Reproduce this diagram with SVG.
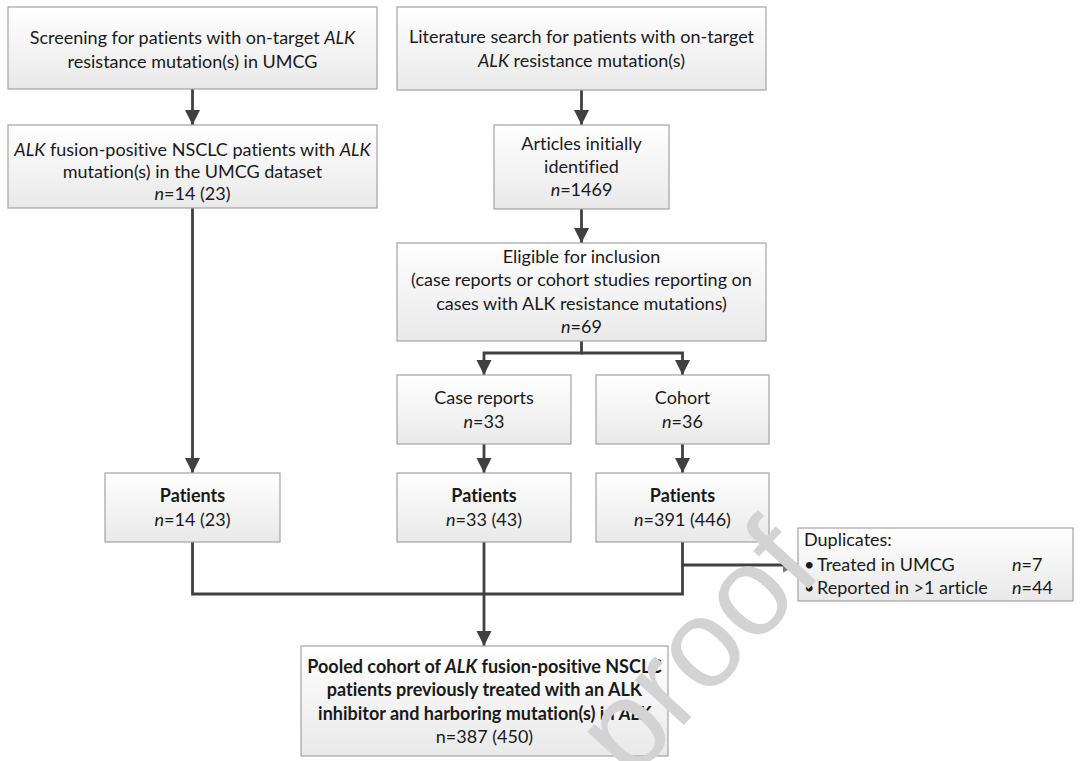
<svg xmlns="http://www.w3.org/2000/svg" width="1080" height="761" viewBox="0 0 1080 761">
<defs>
<linearGradient id="g" x1="0" y1="0" x2="0" y2="1">
<stop offset="0" stop-color="#ffffff"/>
<stop offset="1" stop-color="#e9e9e9"/>
</linearGradient>
<marker id="ah" markerUnits="userSpaceOnUse" markerWidth="16" markerHeight="16" refX="15" refY="7.5" orient="auto">
<path d="M0,0 L15,7.5 L0,15 z" fill="#404040"/>
</marker>
<marker id="ahg" markerUnits="userSpaceOnUse" markerWidth="16" markerHeight="16" refX="15" refY="7.5" orient="auto">
<path d="M0,0 L15,7.5 L0,15 z" fill="#7a7a7a"/>
</marker>
</defs>
<style>
rect.b{fill:url(#g);stroke:#a3a3a3;stroke-width:1.2}
text{font-family:Lato,"Liberation Sans",sans-serif;font-size:18px;fill:#1a1a1a;font-variant-ligatures:none}
text.c{text-anchor:middle}
.bo{font-weight:bold}
.i{font-style:italic}
.ln{fill:none;stroke:#404040;stroke-width:2.8}
.wm{font-family:"Liberation Sans",sans-serif;font-size:126px;fill:#d3d3d3}
</style>
<rect width="1080" height="761" fill="#ffffff"/>
<g id="connectors">
<path class="ln" d="M192.5,89 V125" marker-end="url(#ah)"/>
<path class="ln" d="M192.5,208 V473" marker-end="url(#ah)"/>
<path class="ln" d="M581.5,90 V125" marker-end="url(#ah)"/>
<path class="ln" d="M581.5,209 V243" marker-end="url(#ah)"/>
<path class="ln" d="M581.5,341 V353 H484 V375" marker-end="url(#ah)"/>
<path class="ln" d="M581.5,353 H682.5 V375" marker-end="url(#ah)"/>
<path class="ln" d="M484,444 V473" marker-end="url(#ah)"/>
<path class="ln" d="M682.5,444 V473" marker-end="url(#ah)"/>
<path class="ln" d="M192.5,542 V594 H682.5 V542"/>
<path class="ln" d="M484,542 V646" marker-end="url(#ah)"/>
<path class="ln" d="M682.5,565 H798" stroke="#555" marker-end="url(#ahg)"/>
</g>
<g id="screening">
<rect class="b" x="8" y="7" width="369" height="82"/>
<text class="c" x="192.5" y="44">Screening for patients with on-target <tspan class="i">ALK</tspan></text>
<text class="c" x="192.5" y="68">resistance mutation(s) in UMCG</text>
</g>
<g id="umcg">
<rect class="b" x="8" y="125" width="369" height="83"/>
<text class="c" x="192.5" y="156"><tspan class="i">ALK</tspan> fusion-positive NSCLC patients with <tspan class="i">ALK</tspan></text>
<text class="c" x="192.5" y="178">mutation(s) in the UMCG dataset</text>
<text class="c" x="192.5" y="200"><tspan class="i">n</tspan>=14 (23)</text>
</g>
<g id="literature">
<rect class="b" x="397" y="7" width="369" height="83"/>
<text class="c" x="581.5" y="43">Literature search for patients with on-target</text>
<text class="c" x="581.5" y="67"><tspan class="i">ALK</tspan> resistance mutation(s)</text>
</g>
<g id="articles">
<rect class="b" x="494" y="125" width="175" height="84"/>
<text class="c" x="581.5" y="150">Articles initially</text>
<text class="c" x="581.5" y="173">identified</text>
<text class="c" x="581.5" y="196"><tspan class="i">n</tspan>=1469</text>
</g>
<g id="eligible">
<rect class="b" x="397" y="243" width="369" height="98"/>
<text class="c" x="581.5" y="263">Eligible for inclusion</text>
<text class="c" x="581.5" y="286">(case reports or cohort studies reporting on</text>
<text class="c" x="581.5" y="310">cases with ALK resistance mutations)</text>
<text class="c" x="581.5" y="333"><tspan class="i">n</tspan>=69</text>
</g>
<g id="case-reports">
<rect class="b" x="397" y="375" width="174" height="69"/>
<text class="c" x="484" y="404">Case reports</text>
<text class="c" x="484" y="428"><tspan class="i">n</tspan>=33</text>
</g>
<g id="cohort">
<rect class="b" x="596" y="375" width="173" height="69"/>
<text class="c" x="682.5" y="404">Cohort</text>
<text class="c" x="682.5" y="428"><tspan class="i">n</tspan>=36</text>
</g>
<g id="patients-umcg">
<rect class="b" x="105" y="473" width="175" height="69"/>
<text class="c bo" x="192.5" y="502">Patients</text>
<text class="c" x="192.5" y="526"><tspan class="i">n</tspan>=14 (23)</text>
</g>
<g id="patients-case">
<rect class="b" x="397" y="473" width="174" height="69"/>
<text class="c bo" x="484" y="502">Patients</text>
<text class="c" x="484" y="526"><tspan class="i">n</tspan>=33 (43)</text>
</g>
<g id="patients-cohort">
<rect class="b" x="596" y="473" width="173" height="69"/>
<text class="c bo" x="682.5" y="502">Patients</text>
<text class="c" x="682.5" y="526"><tspan class="i">n</tspan>=391 (446)</text>
</g>
<g id="duplicates">
<rect class="b" x="798" y="528" width="275" height="73"/>
<text x="804" y="546">Duplicates:</text>
<text x="804" y="571">•</text>
<text x="817" y="571">Treated in UMCG</text>
<text x="1012" y="571"><tspan class="i">n</tspan>=7</text>
<text x="804" y="594">•</text>
<text x="817" y="594">Reported in &gt;1 article</text>
<text x="1012" y="594"><tspan class="i">n</tspan>=44</text>
</g>
<g id="pooled">
<rect class="b" x="301" y="646" width="367" height="110"/>
<text class="c bo" x="484.5" y="673">Pooled cohort of <tspan class="i">ALK</tspan> fusion-positive NSCLC</text>
<text class="c bo" x="484.5" y="696">patients previously treated with an ALK</text>
<text class="c bo" x="484.5" y="720">inhibitor and harboring mutation(s) in <tspan class="i">ALK</tspan></text>
<text class="c" x="484.5" y="743">n=387 (450)</text>
</g>
<text class="wm" transform="translate(630,735) rotate(-47.5)" x="-35" y="33">proof</text>
</svg>
